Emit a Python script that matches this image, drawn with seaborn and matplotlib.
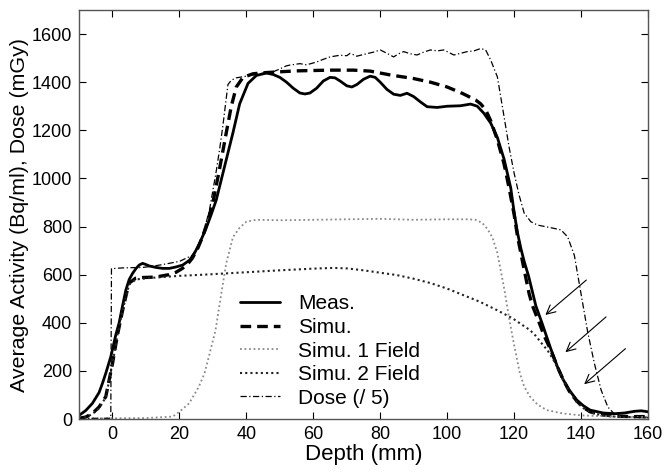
import numpy as np
import pandas as pd
import matplotlib
matplotlib.use("Agg")
import matplotlib.pyplot as plt
import seaborn as sns

# ---- data ----
meas_depth = [-10, -8, -6, -4, -3, -2, -0.5, 1, 2, 3, 4, 5, 6, 7, 8, 9, 10, 11, 13, 15, 17, 19, 21, 23,
              24.5, 26, 27.8, 29.5, 31, 33.5, 36, 38, 40.5, 43, 46, 48, 50, 52, 54, 56, 57.5, 59, 61, 63,
              65, 66.5, 68, 70, 71.5, 73, 75, 77, 78.5, 80, 82, 84, 86, 88, 90, 92, 94, 97, 100, 104,
              107, 109, 111, 113, 115, 117, 119, 120, 121, 122, 123, 124.3, 126.5, 128.3, 131, 133,
              134.6, 136.5, 138.7, 140.7, 142.7, 146.6, 150, 153, 156, 158, 160]
meas_value = [15, 35, 65, 110, 148, 190, 259, 350, 400, 470, 536, 580, 605, 625, 640, 647, 642, 636, 630,
              626, 626, 632, 640, 660, 689, 730, 786, 850, 910, 1050, 1190, 1310, 1395, 1428, 1438, 1432,
              1420, 1400, 1375, 1355, 1351, 1355, 1375, 1405, 1420, 1418, 1405, 1385, 1380, 1390, 1412,
              1425, 1420, 1400, 1370, 1350, 1345, 1354, 1340, 1318, 1298, 1295, 1300, 1302, 1309, 1300,
              1270, 1230, 1170, 1080, 960, 860, 775, 710, 655, 595, 470, 400, 290, 215, 165, 120, 79, 55,
              37, 25, 22, 25, 32, 34, 30]

simu_depth = [-10, -8, -6, -4, -2, 0, 1.5, 3, 4.9, 6.9, 9, 12.9, 16.9, 19, 20.9, 22.5, 23.8, 25.5, 27,
              28.5, 30, 32, 34, 35.5, 37, 39, 42, 46, 55, 65, 72, 77, 83, 90, 95, 100, 104.6, 108.5, 110,
              111.5, 113, 115, 117, 118.5, 120, 121, 122, 123, 124.5, 125.5, 127.5, 129, 131, 133, 134.6,
              136.5, 138.7, 140.7, 142.7, 146, 150, 155, 160]
simu_value = [3, 8, 23, 50, 93, 230, 350, 450, 564, 585, 588, 590, 600, 610, 626, 645, 667, 710, 760, 825,
              900, 1040, 1190, 1300, 1380, 1420, 1435, 1440, 1447, 1450, 1450, 1446, 1430, 1415, 1400,
              1380, 1353, 1326, 1310, 1285, 1240, 1160, 1060, 960, 850, 760, 690, 620, 520, 470, 400, 345,
              285, 215, 165, 115, 75, 48, 30, 18, 12, 10, 10]

field1_depth = [-10, 0, 10, 18, 20, 22.9, 25.8, 27.5, 28.8, 30.8, 32.5, 34, 36, 38, 40, 43, 50, 60, 70,
                80, 90, 100, 106, 108.5, 110.5, 112, 113.5, 115, 117.1, 118.5, 119.7, 121.7, 123, 124.7,
                127, 129.7, 134.6, 140, 150, 160]
field1_value = [2, 3, 4, 10, 30, 65, 134, 190, 259, 370, 520, 648, 756, 795, 820, 828, 826, 828, 830, 832,
                828, 830, 830, 828, 815, 790, 755, 690, 537, 420, 329, 191, 135, 94, 60, 37, 23, 15, 10, 8]

field2_depth = [-10, -8, -6, -4, -2, 0, 1.5, 3, 5, 7, 10, 15, 20, 26, 30, 40, 50, 60, 66, 70, 75, 80, 85,
                90, 95, 100, 104.8, 109.8, 114.8, 119.6, 122, 124.7, 126.5, 128.2, 130, 132, 134.6, 136.5,
                138.7, 140.7, 142.7, 146, 150, 155, 160]
field2_value = [2, 8, 20, 45, 90, 230, 350, 450, 560, 580, 585, 590, 595, 599, 602, 610, 618, 625, 628,
                626, 618, 608, 598, 583, 565, 542, 515, 487, 453, 418, 395, 370, 345, 315, 285, 240, 165,
                115, 70, 45, 28, 16, 10, 8, 6]

dose_depth = [-10, -1, -0.5, -0.3, 3, 9, 12, 15, 20, 23.8, 26, 27.5, 29, 30, 31, 32, 33, 33.7, 34.5, 35.5,
              37, 40, 43, 46, 48, 50, 52, 53, 55, 56, 58, 61, 63, 65, 68, 70, 71, 73, 75, 78, 80, 82, 84,
              85.5, 87, 89, 91, 93, 95, 97, 99, 101, 102, 104, 106, 108, 110, 111.5, 113, 115, 117, 118.5,
              120, 121.5, 123, 125, 127, 131, 134, 136, 138, 139, 140, 142, 144, 146, 148, 150, 155, 160]
dose_value = [3, 3, 5, 625, 628, 630, 635, 642, 655, 680, 730, 790, 870, 950, 1030, 1120, 1220, 1300, 1390,
              1408, 1418, 1425, 1432, 1440, 1443, 1455, 1468, 1471, 1475, 1477, 1472, 1484, 1495, 1505,
              1512, 1510, 1520, 1508, 1515, 1525, 1534, 1520, 1505, 1518, 1527, 1518, 1513, 1525, 1534,
              1530, 1534, 1520, 1513, 1520, 1527, 1530, 1540, 1534, 1492, 1422, 1256, 1130, 1022, 930,
              856, 820, 806, 795, 786, 757, 680, 600, 520, 360, 230, 120, 50, 20, 8, 5]

series_labels = ["Meas.", "Simu.", "Simu. 1 Field", "Simu. 2 Field", "Dose (/ 5)"]
x_ticks = [0, 20, 40, 60, 80, 100, 120, 140, 160]
y_ticks = [0, 200, 400, 600, 800, 1000, 1200, 1400, 1600]

# ---- styling ----
sns.set_style("ticks")
plt.rcParams["font.family"] = ["Liberation Sans", "DejaVu Sans"]
plt.rcParams["text.color"] = "black"
plt.rcParams["axes.labelcolor"] = "black"
plt.rcParams["xtick.color"] = "black"
plt.rcParams["ytick.color"] = "black"

fig = plt.figure(figsize=(6.67, 4.72), dpi=100)
ax = fig.add_axes([79 / 667, (472 - 419) / 472, (648 - 79) / 667, (419 - 10) / 472])

styles = [
    dict(color="black", lw=2.0, ls="-"),
    dict(color="black", lw=2.4, ls=(0, (3.2, 1.8))),
    dict(color="#8a8a8a", lw=1.3, ls=(0, (1, 1.5))),
    dict(color="#222222", lw=1.5, ls=(0, (1, 1.5))),
    dict(color="black", lw=0.9, ls=(0, (5, 2, 1, 2))),
]
data = [(meas_depth, meas_value), (simu_depth, simu_value), (field1_depth, field1_value),
        (field2_depth, field2_value), (dose_depth, dose_value)]

for (d, v), lab, st in zip(data, series_labels, styles):
    sns.lineplot(x=d, y=v, ax=ax, label=lab, sort=False, estimator=None,
                 color=st["color"], linewidth=st["lw"], linestyle=st["ls"])

ax.set_xlim(-10, 160)
ax.set_ylim(0, 1700)
ax.set_xticks(x_ticks)
ax.set_yticks(y_ticks)
ax.tick_params(direction="in", top=True, right=True, length=5, width=0.8,
               labelsize=13, pad=5, colors="black")
for sp in ax.spines.values():
    sp.set_visible(True)
    sp.set_color("#555555")
    sp.set_linewidth(1.0)

ax.set_xlabel("Depth (mm)", fontsize=16, labelpad=1)
ax.set_ylabel("Average Activity (Bq/ml), Dose (mGy)", fontsize=15.4, labelpad=2)

leg = ax.legend(loc="upper left", bbox_to_anchor=(0.268, 0.325), frameon=False, fontsize=15,
                handlelength=1.95, handletextpad=0.85, labelspacing=0.22, borderaxespad=0.0)
for t in leg.get_texts():
    t.set_color("black")

# arrows pointing at the distal fall-off
arrow_kw = dict(arrowstyle="->", color="black", lw=0.8, mutation_scale=16)
ax.annotate("", xy=(128.7, 425), xytext=(142.2, 585), arrowprops=arrow_kw)
ax.annotate("", xy=(134.7, 270), xytext=(148.1, 432), arrowprops=arrow_kw)
ax.annotate("", xy=(140.3, 137), xytext=(153.9, 300), arrowprops=arrow_kw)

fig.savefig("out.png", dpi=100)
